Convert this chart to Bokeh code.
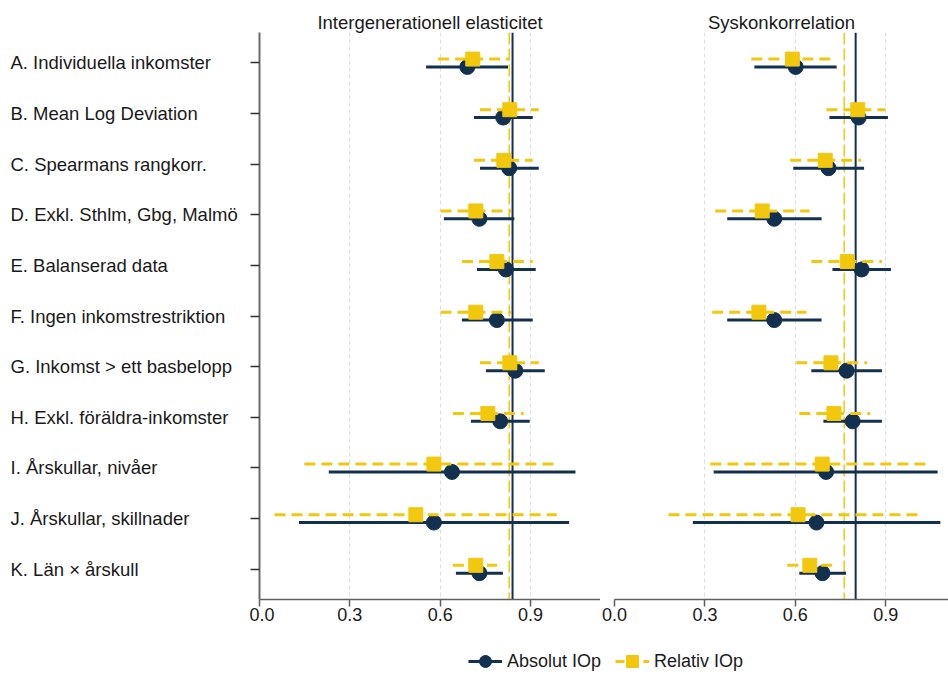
from bokeh.plotting import figure
from bokeh.models import (ColumnDataSource, Range1d, FixedTicker, NumeralTickFormatter,
                          Span, Legend, LegendItem)
from bokeh.layouts import row, column
from bokeh.embed import file_html
from bokeh.resources import INLINE
from bokeh.core.properties import value

# ---------------- data ----------------
categories = [
    "A. Individuella inkomster",
    "B. Mean Log Deviation",
    "C. Spearmans rangkorr.",
    "D. Exkl. Sthlm, Gbg, Malmö",
    "E. Balanserad data",
    "F. Ingen inkomstrestriktion",
    "G. Inkomst > ett basbelopp",
    "H. Exkl. föräldra-inkomster",
    "I. Årskullar, nivåer",
    "J. Årskullar, skillnader",
    "K. Län × årskull",
]
panel_titles = ["Intergenerationell elasticitet", "Syskonkorrelation"]
series_names = ["Absolut IOp", "Relativ IOp"]
x_ticks = [0.0, 0.3, 0.6, 0.9]

# Intergenerationell elasticitet
ige_abs_est = [0.690, 0.809, 0.829, 0.730, 0.818, 0.788, 0.849, 0.799, 0.639, 0.579, 0.730]
ige_abs_lo  = [0.553, 0.712, 0.732, 0.612, 0.722, 0.672, 0.752, 0.702, 0.230, 0.131, 0.652]
ige_abs_hi  = [0.825, 0.907, 0.927, 0.846, 0.917, 0.907, 0.947, 0.897, 1.049, 1.028, 0.808]
ige_rel_est = [0.708, 0.831, 0.811, 0.718, 0.788, 0.718, 0.831, 0.758, 0.579, 0.519, 0.718]
ige_rel_lo  = [0.593, 0.732, 0.712, 0.601, 0.672, 0.601, 0.732, 0.642, 0.149, 0.050, 0.642]
ige_rel_hi  = [0.829, 0.927, 0.907, 0.835, 0.907, 0.835, 0.927, 0.877, 0.987, 0.987, 0.789]

# Syskonkorrelation
sib_abs_est = [0.601, 0.810, 0.710, 0.530, 0.820, 0.530, 0.770, 0.790, 0.702, 0.670, 0.690]
sib_abs_lo  = [0.464, 0.713, 0.593, 0.374, 0.723, 0.374, 0.653, 0.693, 0.329, 0.260, 0.613]
sib_abs_hi  = [0.737, 0.907, 0.828, 0.687, 0.917, 0.687, 0.887, 0.887, 1.072, 1.081, 0.768]
sib_rel_est = [0.590, 0.807, 0.699, 0.490, 0.772, 0.479, 0.718, 0.728, 0.689, 0.609, 0.648]
sib_rel_lo  = [0.454, 0.703, 0.583, 0.334, 0.653, 0.324, 0.603, 0.613, 0.318, 0.179, 0.573]
sib_rel_hi  = [0.718, 0.899, 0.818, 0.647, 0.887, 0.637, 0.838, 0.848, 1.043, 1.017, 0.722]

# reference (baseline) lines per panel
ref_abs = [0.840, 0.800]
ref_rel = [0.829, 0.762]

# ---------------- style ----------------
FONT = "Liberation Sans"
FS = "18px"
FS_LAB = "18.5px"
NAVY = "#13304f"
YELLOW = "#f2c80f"
TXT = "#1a1a1a"
TOP, BOT, FRAME_H = 32, 31, 567
H = TOP + FRAME_H + BOT
N = len(categories)
ypos = list(range(N))
OFF_ABS, OFF_REL = 0.08, -0.075

yr = Range1d(start=N - 1 + 0.6, end=-0.6)

# ---------------- category labels ----------------
lab = figure(width=249, height=H, x_range=Range1d(0, 1), y_range=yr,
             toolbar_location=None, output_backend="svg",
             x_axis_location=None, y_axis_location=None,
             min_border_left=0, min_border_right=0,
             min_border_top=TOP, min_border_bottom=BOT,
             outline_line_color=None)
lab.grid.visible = False
lab_src = ColumnDataSource(dict(y=ypos, text=categories))
lab.text(x=0, y="y", text="text", source=lab_src, x_offset=10,
         text_font=value(FONT), text_font_size=FS_LAB, text_color=TXT,
         text_align="left", text_baseline="middle")


def make_panel(title, width, border_left, xmax, a_est, a_lo, a_hi, r_est, r_lo, r_hi,
               ra, rr, show_y, title_offset=0):
    p = figure(width=width, height=H, x_range=Range1d(0, xmax), y_range=yr,
               toolbar_location=None, output_backend="svg",
               y_axis_location="left" if show_y else None,
               min_border_left=border_left, min_border_right=0,
               min_border_top=TOP, min_border_bottom=BOT,
               outline_line_color=None)
    p.title.text = title
    p.title.text_font = FONT
    p.title.text_font_size = FS_LAB
    p.title.text_font_style = "normal"
    p.title.text_color = TXT
    p.title.align = "center"
    p.title.standoff = 0
    p.title.offset = title_offset

    ax = p.xaxis[0]
    ax.ticker = FixedTicker(ticks=x_ticks)
    ax.formatter = NumeralTickFormatter(format="0.0")
    ax.major_label_text_font = FONT
    ax.major_label_text_font_size = FS
    ax.major_label_text_color = TXT
    ax.major_label_standoff = 1
    ax.major_tick_out = 7
    ax.major_tick_in = 0
    ax.minor_tick_out = 0
    ax.minor_tick_in = 0
    ax.axis_line_color = "#5f5f5f"
    ax.axis_line_width = 1.5
    ax.major_tick_line_color = "#5f5f5f"
    ax.major_tick_line_width = 1.5

    if show_y:
        ay = p.yaxis[0]
        ay.ticker = FixedTicker(ticks=ypos)
        ay.major_label_overrides = {i: "" for i in ypos}
        ay.major_label_text_color = None
        ay.major_label_standoff = 0
        ay.major_tick_out = 9
        ay.major_tick_in = 0
        ay.minor_tick_out = 0
        ay.minor_tick_in = 0
        ay.axis_line_color = "#6a6a6a"
        ay.axis_line_width = 2
        ay.major_tick_line_color = "#333333"
        ay.major_tick_line_width = 1.5

    p.xgrid.ticker = FixedTicker(ticks=x_ticks)
    p.xgrid.grid_line_color = "#dedede"
    p.xgrid.grid_line_dash = "4 3"
    p.xgrid.grid_line_width = 1
    p.ygrid.visible = False

    p.add_layout(Span(location=rr, dimension="height", line_color=YELLOW,
                      line_width=1.5, line_dash="12 4", level="underlay"))
    p.add_layout(Span(location=ra, dimension="height", line_color=NAVY,
                      line_width=2, level="underlay"))

    src_a = ColumnDataSource(dict(y=[v + OFF_ABS for v in ypos], est=a_est, lo=a_lo, hi=a_hi))
    src_r = ColumnDataSource(dict(y=[v + OFF_REL for v in ypos], est=r_est, lo=r_lo, hi=r_hi))

    p.segment(x0="lo", y0="y", x1="hi", y1="y", source=src_a,
              line_color=NAVY, line_width=3)
    p.scatter(x="est", y="y", source=src_a, marker="circle", size=15,
              fill_color=NAVY, line_color=NAVY)
    p.segment(x0="lo", y0="y", x1="hi", y1="y", source=src_r,
              line_color=YELLOW, line_width=3, line_dash="11 6")
    p.scatter(x="est", y="y", source=src_r, marker="square", size=14,
              fill_color=YELLOW, line_color=YELLOW)
    return p


pl = make_panel(panel_titles[0], 351, 10, 1.132,
                ige_abs_est, ige_abs_lo, ige_abs_hi, ige_rel_est, ige_rel_lo, ige_rel_hi,
                ref_abs[0], ref_rel[0], True)
pr = make_panel(panel_titles[1], 348, 14, 1.108,
                sib_abs_est, sib_abs_lo, sib_abs_hi, sib_rel_est, sib_rel_lo, sib_rel_hi,
                ref_abs[1], ref_rel[1], False, title_offset=4)

# ---------------- legend ----------------
leg = figure(width=948, height=676 - H, x_range=Range1d(0, 1), y_range=Range1d(0, 1),
             toolbar_location=None, output_backend="svg",
             x_axis_location=None, y_axis_location=None,
             min_border=0, outline_line_color=None)
leg.grid.visible = False
nan_src = ColumnDataSource(dict(x=[float("nan")], y=[float("nan")]))
r1 = leg.line("x", "y", source=nan_src, line_color=NAVY, line_width=3)
r2 = leg.scatter("x", "y", source=nan_src, marker="circle", size=14,
                 fill_color=NAVY, line_color=NAVY)
r3 = leg.line("x", "y", source=nan_src, line_color=YELLOW, line_width=3, line_dash="9 5")
r4 = leg.scatter("x", "y", source=nan_src, marker="square", size=14,
                 fill_color=YELLOW, line_color=YELLOW)
legend = Legend(items=[LegendItem(label=series_names[0], renderers=[r1, r2]),
                       LegendItem(label=series_names[1], renderers=[r3, r4])],
                orientation="horizontal", location=(468, 0),
                padding=0, margin=0, spacing=14, label_standoff=5,
                glyph_width=34, glyph_height=30,
                border_line_color=None, background_fill_alpha=0,
                label_text_font=FONT, label_text_font_size=FS, label_text_color=TXT)
leg.add_layout(legend)

layout = column(row(lab, pl, pr), leg)

open("out.html", "w").write(file_html(layout, INLINE))
